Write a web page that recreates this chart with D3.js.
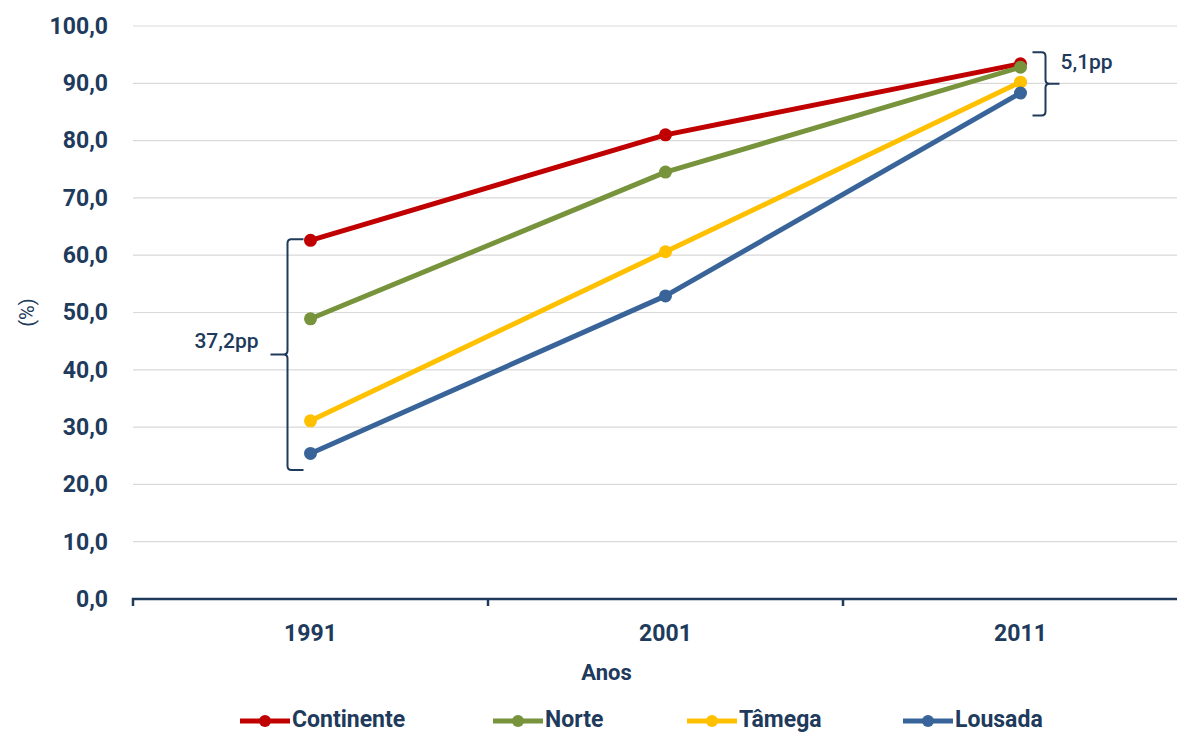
<!DOCTYPE html>
<html>
<head>
<meta charset="utf-8">
<script src="https://cdnjs.cloudflare.com/ajax/libs/d3/7.8.5/d3.min.js"></script>
<style>
  html, body { margin: 0; padding: 0; background: #fff; }
  svg { display: block; }
  text { font-family: Roboto, "Liberation Sans", sans-serif; fill: #203a5c; }
</style>
</head>
<body>
<svg id="chart" width="1177" height="736"></svg>
<script>
// Anos de referência e séries (%)
const years = ["1991", "2001", "2011"];
const seriesNames = ["Continente", "Norte", "Tâmega", "Lousada"];
const continente = [62.6, 81.0, 93.4];
const norte = [48.9, 74.5, 92.8];
const tamega = [31.1, 60.6, 90.2];
const lousada = [25.4, 52.9, 88.3];
const seriesColors = ["#c00000", "#77933c", "#ffc000", "#386499"];
const yTicks = [0, 10, 20, 30, 40, 50, 60, 70, 80, 90, 100];

// Anotações de diferença (pp) entre o valor máximo e mínimo
const gapLabels = ["37,2pp", "5,1pp"];

const series = seriesNames.map((name, i) => ({
  name,
  color: seriesColors[i],
  values: [continente, norte, tamega, lousada][i]
}));

const svg = d3.select("#chart");
const margin = { left: 133, top: 26, bottom: 137 };
const bandWidth = 355;
const plotBottom = 736 - margin.bottom;

const x = d3.scaleBand()
  .domain([...years, ""])
  .range([margin.left, margin.left + bandWidth * 4]);
const xc = d => x(d) + x.bandwidth() / 2;

const y = d3.scaleLinear()
  .domain([0, 100])
  .range([plotBottom, margin.top]);

const fmt = v => d3.format(".1f")(v).replace(".", ",");

// Linhas de grelha
svg.append("g")
  .selectAll("line")
  .data(yTicks.filter(t => t > 0))
  .join("line")
  .attr("x1", margin.left)
  .attr("x2", 1177)
  .attr("y1", d => y(d))
  .attr("y2", d => y(d))
  .attr("stroke", "#d9d9d9")
  .attr("stroke-width", 1.2);

// Eixo Y (apenas rótulos)
const yAxis = svg.append("g")
  .attr("transform", `translate(${margin.left},0)`)
  .call(d3.axisLeft(y).tickValues(yTicks).tickFormat(fmt).tickSize(0).tickPadding(25));
yAxis.select(".domain").remove();
yAxis.selectAll("text")
  .attr("font-size", 23)
  .attr("font-weight", 700)
  .style("font-family", "Roboto, sans-serif")
  .attr("fill", "#203a5c");

// Eixo X
const xAxis = svg.append("g")
  .attr("transform", `translate(0,${plotBottom})`)
  .call(d3.axisBottom(x).tickSize(0).tickPadding(26));
xAxis.select(".domain")
  .attr("d", `M${margin.left},${7}V0H${margin.left + bandWidth * 4}`)
  .attr("stroke", "#203a5c")
  .attr("stroke-width", 2.5)
  .attr("fill", "none");
xAxis.selectAll("text")
  .attr("font-size", 23)
  .attr("font-weight", 700)
  .attr("fill", "#203a5c");
// Marcas entre categorias
xAxis.append("g")
  .selectAll("line")
  .data(years.slice(1).concat([""]))
  .join("line")
  .attr("x1", d => x(d))
  .attr("x2", d => x(d))
  .attr("y1", 0)
  .attr("y2", 7)
  .attr("stroke", "#203a5c")
  .attr("stroke-width", 2.5);

// Títulos dos eixos
svg.append("text")
  .attr("transform", `translate(29,${(margin.top + plotBottom) / 2}) rotate(-90)`)
  .attr("text-anchor", "middle")
  .attr("dominant-baseline", "middle")
  .attr("font-size", 20)
  .text("(%)");
svg.append("text")
  .attr("x", xc("2001") - 59)
  .attr("y", 680)
  .attr("text-anchor", "middle")
  .attr("font-size", 22)
  .attr("font-weight", 700)
  .text("Anos");

// Séries
const line = d3.line()
  .x((d, i) => xc(years[i]))
  .y(d => y(d));

const gSeries = svg.append("g");
series.forEach(s => {
  gSeries.append("path")
    .datum(s.values)
    .attr("d", line)
    .attr("fill", "none")
    .attr("stroke", s.color)
    .attr("stroke-width", 5)
    .attr("stroke-linejoin", "round");
});
series.forEach(s => {
  gSeries.append("g")
    .selectAll("circle")
    .data(s.values)
    .join("circle")
    .attr("cx", (d, i) => xc(years[i]))
    .attr("cy", d => y(d))
    .attr("r", 6.5)
    .attr("fill", s.color);
});

// Chavetas de diferença
function brace(xv, yTop, yBot, dir, tipLen, armLen) {
  const ym = (yTop + yBot) / 2;
  const r = 4;
  return `M${xv - dir * armLen},${yTop}H${xv - dir * r}Q${xv},${yTop} ${xv},${yTop + r}` +
         `V${ym - r}Q${xv},${ym} ${xv + dir * r},${ym}H${xv + dir * tipLen}` +
         `M${xv + dir * r},${ym}Q${xv},${ym} ${xv},${ym + r}` +
         `V${yBot - r}Q${xv},${yBot} ${xv - dir * r},${yBot}H${xv - dir * armLen}`;
}

const gAnn = svg.append("g");
const b1x = xc("1991") - 23;
gAnn.append("path")
  .attr("d", brace(b1x, y(62.8), y(22.5), -1, 17, 16))
  .attr("fill", "none")
  .attr("stroke", "#203a5c")
  .attr("stroke-width", 2);
gAnn.append("text")
  .attr("x", b1x - 29)
  .attr("y", (y(62.8) + y(22.5)) / 2 - 12)
  .attr("text-anchor", "end")
  .attr("dominant-baseline", "middle")
  .attr("font-size", 21)
  .attr("font-weight", 500)
  .text(gapLabels[0]);

const b2x = xc("2011") + 25;
gAnn.append("path")
  .attr("d", brace(b2x, y(95.4), y(84.4), 1, 14, 13))
  .attr("fill", "none")
  .attr("stroke", "#203a5c")
  .attr("stroke-width", 2);
gAnn.append("text")
  .attr("x", b2x + 15)
  .attr("y", y(95.4) + 11)
  .attr("text-anchor", "start")
  .attr("dominant-baseline", "middle")
  .attr("font-size", 21)
  .attr("font-weight", 500)
  .text(gapLabels[1]);

// Legenda
const legendX = [240, 493, 687, 903];
const legend = svg.append("g").attr("transform", "translate(0,721)");
series.forEach((s, i) => {
  const g = legend.append("g").attr("transform", `translate(${legendX[i]},0)`);
  g.append("line")
    .attr("x1", 0).attr("x2", 50)
    .attr("stroke", s.color)
    .attr("stroke-width", 5);
  g.append("circle")
    .attr("cx", 25).attr("r", 6)
    .attr("fill", s.color);
  g.append("text")
    .attr("x", 52)
    .attr("dominant-baseline", "middle")
    .attr("font-size", 23)
    .attr("font-weight", 700)
    .text(s.name);
});
</script>
</body>
</html>
